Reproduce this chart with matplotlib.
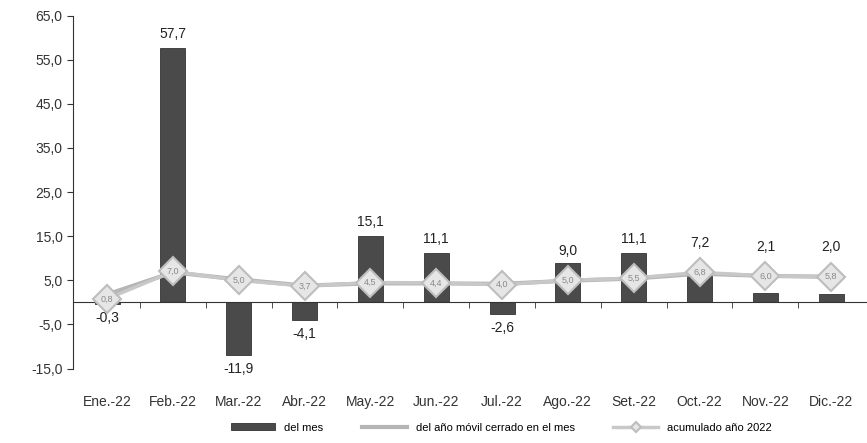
import matplotlib
matplotlib.use("Agg")
import matplotlib.pyplot as plt
import numpy as np

plt.rcParams['font.family'] = ['Liberation Sans', 'DejaVu Sans']

# values
meses = ["Ene.-22", "Feb.-22", "Mar.-22", "Abr.-22", "May.-22", "Jun.-22",
         "Jul.-22", "Ago.-22", "Set.-22", "Oct.-22", "Nov.-22", "Dic.-22"]
del_mes = [-0.3, 57.7, -11.9, -4.1, 15.1, 11.1, -2.6, 9.0, 11.1, 7.2, 2.1, 2.0]
movil = [1.8, 6.8, 5.2, 3.8, 4.3, 4.3, 4.2, 4.9, 5.4, 6.5, 6.0, 5.8]
acumulado = [0.8, 7.0, 5.0, 3.7, 4.5, 4.4, 4.0, 5.0, 5.5, 6.8, 6.0, 5.8]
yticks = [-15, -5, 5, 15, 25, 35, 45, 55, 65]

fig = plt.figure(figsize=(8.67, 4.43), dpi=100)
ax = fig.add_axes([0.084, 0.168, 0.915, 0.797])

x = np.arange(len(meses))
b = ax.bar(x, del_mes, width=0.38, color='#4a4a4a', edgecolor='#333333',
           linewidth=0.6, label='del mes', zorder=2)
l1, = ax.plot(x, movil, color='#b5b5b5', lw=3, zorder=3,
              label='del año móvil cerrado en el mes')
l2, = ax.plot(x, acumulado, color='#c8c8c8', lw=2.5, marker='D', ms=14,
              mfc='#e6e6e6', mec='#bdbdbd', mew=1.5, zorder=4,
              label='acumulado año 2022')

for xi, v, a in zip(x, del_mes, acumulado):
    txt = f"{v:.1f}".replace('.', ',')
    if v >= 0:
        base = v if v > a + 4 else a + 3.5
        ax.annotate(txt, (xi, base), xytext=(0, 5), textcoords='offset points',
                    ha='center', va='bottom', fontsize=10, color='#222222')
    else:
        ax.annotate(txt, (xi, v), xytext=(0, -5), textcoords='offset points',
                    ha='center', va='top', fontsize=10, color='#222222')
for xi, v in zip(x, acumulado):
    ax.text(xi, v, f"{v:.1f}".replace('.', ','), ha='center', va='center',
            fontsize=6.5, color='#8a8a8a', zorder=5)

ax.set_xlim(-0.52, len(meses) - 0.47)
ax.set_ylim(-15, 65)
ax.set_yticks(yticks)
ax.set_yticklabels([f"{t:.1f}".replace('.', ',') for t in yticks],
                   fontsize=10, color='#333333')
ax.tick_params(axis='y', length=4, color='#333333')

ax.spines['top'].set_visible(False)
ax.spines['right'].set_visible(False)
ax.spines['bottom'].set_position(('data', 0))
ax.spines['bottom'].set_color('#333333')
ax.spines['left'].set_color('#333333')

ax.set_xticks(x)
ax.set_xticklabels(meses, fontsize=10, color='#333333')
ax.set_xticks(x[:-1] + 0.5, minor=True)
ax.tick_params(axis='x', which='major', length=0, pad=67)
ax.tick_params(axis='x', which='minor', length=4, direction='out', color='#333333')

ax.legend([b, l1, l2], [b.get_label(), l1.get_label(), l2.get_label()],
          loc='center', bbox_to_anchor=(0.54, -0.167), ncol=3,
          frameon=False, fontsize=8, handlelength=4, handleheight=0.5,
          columnspacing=3.5, markerscale=0.4)

fig.savefig("out.png", dpi=100)
